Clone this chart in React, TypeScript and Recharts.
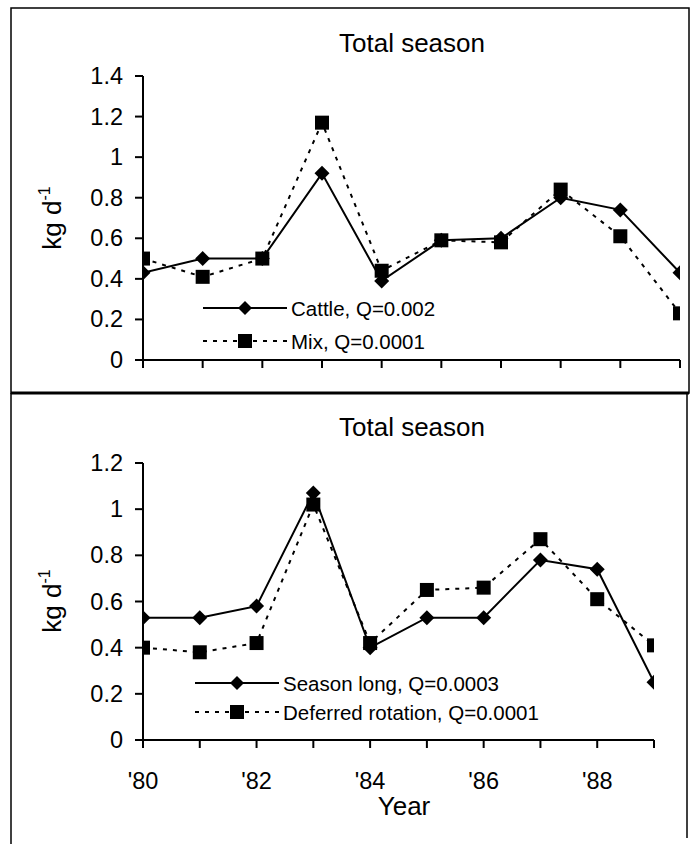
import React from 'react';
import { LineChart, Line, XAxis, YAxis } from 'recharts';

const years = [1980, 1981, 1982, 1983, 1984, 1985, 1986, 1987, 1988, 1989];
const cattle = [0.43, 0.5, 0.5, 0.92, 0.39, 0.59, 0.6, 0.8, 0.74, 0.43];
const mix = [0.5, 0.41, 0.5, 1.17, 0.44, 0.59, 0.58, 0.84, 0.61, 0.23];
const seasonLong = [0.53, 0.53, 0.58, 1.07, 0.4, 0.53, 0.53, 0.78, 0.74, 0.25];
const deferred = [0.4, 0.38, 0.42, 1.02, 0.42, 0.65, 0.66, 0.87, 0.61, 0.41];
const topYTicks = [0, 0.2, 0.4, 0.6, 0.8, 1, 1.2, 1.4];
const botYTicks = [0, 0.2, 0.4, 0.6, 0.8, 1, 1.2];
const yearLabels = ["'80", "'81", "'82", "'83", "'84", "'85", "'86", "'87", "'88", "'89"];
const titleText = 'Total season';
const topLegend = ['Cattle, Q=0.002', 'Mix, Q=0.0001'];
const botLegend = ['Season long, Q=0.0003', 'Deferred rotation, Q=0.0001'];

const topData = years.map((y, i) => ({ year: y, a: cattle[i], b: mix[i] }));
const botData = years.map((y, i) => ({ year: y, a: seasonLong[i], b: deferred[i] }));

const FONT = '"Liberation Sans", Arial, sans-serif';
const TICK_FS = 23.5;
const LEG_FS = 20.5;
const BIG_FS = 26;

const fmtY = (v: number) => (v === 0 ? '0' : v === 1 ? '1' : v.toFixed(1));

const Diamond = (props: any) => {
  const { cx, cy, index } = props;
  if (cx == null || cy == null) return <g key={`d${index}`} />;
  const r = 7.5;
  return (
    <path
      key={`d${index}`}
      d={`M${cx},${cy - r} L${cx + r},${cy} L${cx},${cy + r} L${cx - r},${cy} Z`}
      fill="#000"
      stroke="none"
    />
  );
};

const Square = (props: any) => {
  const { cx, cy, index } = props;
  if (cx == null || cy == null) return <g key={`s${index}`} />;
  const s = 7;
  return <rect key={`s${index}`} x={cx - s} y={cy - s} width={2 * s} height={2 * s} fill="#000" />;
};

const YearTick = (props: any) => {
  const { x, y, payload } = props;
  const idx = years.indexOf(payload.value);
  const show = idx % 2 === 0;
  return (
    <text x={x} y={y + 39} textAnchor="middle" fontSize={TICK_FS} fontFamily={FONT} fill="#000">
      {show ? yearLabels[idx] : ''}
    </text>
  );
};

const YTick = (props: any) => {
  const { x, y, payload } = props;
  return (
    <text x={x} y={y + 8} textAnchor="end" fontSize={TICK_FS} fontFamily={FONT} fill="#000">
      {fmtY(payload.value)}
    </text>
  );
};

function LegendBlock({ x, y, gap, labels }: { x: number; y: number; gap: number; labels: string[] }) {
  return (
    <g>
      <line x1={x} y1={y} x2={x + 84} y2={y} stroke="#000" strokeWidth={2} />
      <path d={`M${x + 42},${y - 7} L${x + 49},${y} L${x + 42},${y + 7} L${x + 35},${y} Z`} fill="#000" />
      <text x={x + 88} y={y + 7.5} fontSize={LEG_FS} fontFamily={FONT} fill="#000">{labels[0]}</text>
      <line x1={x} y1={y + gap} x2={x + 84} y2={y + gap} stroke="#000" strokeWidth={2} strokeDasharray="4 6" />
      <rect x={x + 35} y={y + gap - 7} width={14} height={14} fill="#000" />
      <text x={x + 88} y={y + gap + 7.5} fontSize={LEG_FS} fontFamily={FONT} fill="#000">{labels[1]}</text>
    </g>
  );
}

export default function App() {
  return (
    <div style={{ position: 'absolute', left: 0, top: 0, width: 693, height: 844, background: '#fff' }}>
      <div style={{ position: 'absolute', left: 0, top: 0 }}>
        <LineChart width={693} height={400} data={topData} margin={{ top: 76, right: 13, bottom: 10, left: 0 }}>
          <XAxis
            dataKey="year"
            type="number"
            domain={[1980, 1989]}
            ticks={years}
            tickFormatter={() => ''}
            stroke="#000"
            strokeWidth={2}
            tickSize={8}
            height={30}
            allowDataOverflow
          />
          <YAxis
            type="number"
            domain={[0, 1.4]}
            ticks={topYTicks}
            stroke="#000"
            strokeWidth={2}
            tickSize={8}
            tickMargin={12}
            tick={<YTick />}
            width={143}
            interval={0}
          />
          <Line dataKey="b" stroke="#000" strokeWidth={2} strokeDasharray="4 6" dot={Square} isAnimationActive={false} />
          <Line dataKey="a" stroke="#000" strokeWidth={2} dot={Diamond} isAnimationActive={false} />
        </LineChart>
      </div>
      <div style={{ position: 'absolute', left: 0, top: 393 }}>
        <LineChart width={693} height={451} data={botData} margin={{ top: 70, right: 39, bottom: 74, left: 0 }}>
          <XAxis
            dataKey="year"
            type="number"
            domain={[1980, 1989]}
            ticks={years}
            tick={<YearTick />}
            stroke="#000"
            strokeWidth={2}
            tickSize={8}
            height={30}
            interval={0}
            allowDataOverflow
          />
          <YAxis
            type="number"
            domain={[0, 1.2]}
            ticks={botYTicks}
            stroke="#000"
            strokeWidth={2}
            tickSize={8}
            tickMargin={12}
            tick={<YTick />}
            width={143}
            interval={0}
          />
          <Line dataKey="b" stroke="#000" strokeWidth={2} strokeDasharray="4 6" dot={Square} isAnimationActive={false} />
          <Line dataKey="a" stroke="#000" strokeWidth={2} dot={Diamond} isAnimationActive={false} />
        </LineChart>
      </div>
      <svg width={693} height={844} style={{ position: 'absolute', left: 0, top: 0, pointerEvents: 'none' }}>
        <rect x={11} y={8} width={678} height={385} fill="none" stroke="#000" strokeWidth={1.5} />
        <line x1={11} y1={393} x2={689} y2={393} stroke="#000" strokeWidth={3} />
        <line x1={11} y1={393} x2={11} y2={844} stroke="#000" strokeWidth={1.5} />
        <line x1={687} y1={393} x2={687} y2={838} stroke="#000" strokeWidth={1.5} />
        <text x={412} y={52} textAnchor="middle" fontSize={BIG_FS} fontFamily={FONT} fill="#000">{titleText}</text>
        <text x={412} y={436} textAnchor="middle" fontSize={BIG_FS} fontFamily={FONT} fill="#000">{titleText}</text>
        <text transform="translate(61,218) rotate(-90)" textAnchor="middle" fontSize={BIG_FS} fontFamily={FONT} fill="#000">
          kg d<tspan dy={-11} fontSize={16}>-1</tspan>
        </text>
        <text transform="translate(61,601) rotate(-90)" textAnchor="middle" fontSize={BIG_FS} fontFamily={FONT} fill="#000">
          kg d<tspan dy={-11} fontSize={16}>-1</tspan>
        </text>
        <text x={404} y={815} textAnchor="middle" fontSize={BIG_FS} fontFamily={FONT} fill="#000">Year</text>
        <LegendBlock x={203} y={308} gap={33} labels={topLegend} />
        <LegendBlock x={195} y={683} gap={29} labels={botLegend} />
      </svg>
    </div>
  );
}
